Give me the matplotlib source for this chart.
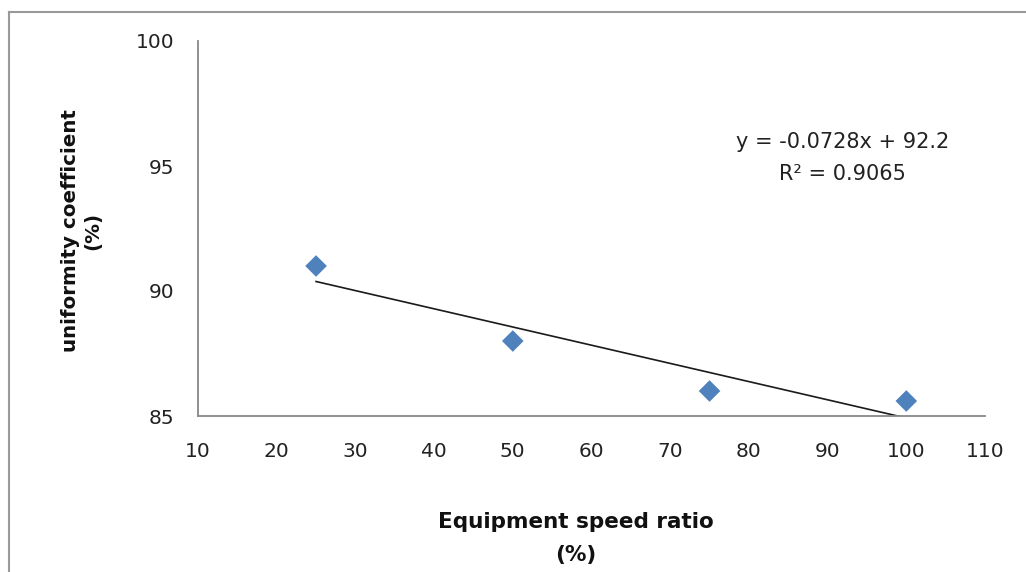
import numpy as np
import matplotlib
matplotlib.use("Agg")
import matplotlib.pyplot as plt
from matplotlib.lines import Line2D

# data
speed_ratio = [25, 50, 75, 100]
uniformity = [91.0, 88.0, 86.0, 85.6]
x_ticks = [10, 20, 30, 40, 50, 60, 70, 80, 90, 100, 110]
y_ticks = [85, 90, 95, 100]

fig = plt.figure(figsize=(10.26, 5.72), dpi=100)
ax = fig.add_axes([198/1026, 1-416/572, (985-198)/1026, (416-41)/572])

ax.scatter(speed_ratio, uniformity, marker='D', s=11**2, color='#4F81BD',
           edgecolors='none', zorder=3, clip_on=False)

slope, intercept = np.polyfit(speed_ratio, uniformity, 1)
xf = np.array([min(speed_ratio), max(speed_ratio)])
ax.plot(xf, slope*xf + intercept, color='#1a1a1a', lw=1.2, zorder=2)

ax.set_xlim(10, 110)
ax.set_ylim(85, 100)
ax.set_xticks(x_ticks)
ax.set_yticks(y_ticks)
ax.tick_params(length=0, labelsize=14.5, colors='#222222')
ax.tick_params(axis='x', pad=19)
ax.tick_params(axis='y', pad=17)
for s in ['top', 'right']:
    ax.spines[s].set_visible(False)
for s in ['left', 'bottom']:
    ax.spines[s].set_color('#888888')
    ax.spines[s].set_linewidth(1.3)

r2 = 1 - np.sum((np.array(uniformity) - (slope*np.array(speed_ratio)+intercept))**2) / \
    np.sum((np.array(uniformity) - np.mean(uniformity))**2)
fig.text(843/1026, 1-142/572, f"y = {slope:.4f}x + {intercept:.1f}", ha='center', va='center',
         fontsize=15, color='#222222')
fig.text(842/1026, 1-174/572, f"R² = {r2:.4f}", ha='center', va='center',
         fontsize=15, color='#222222')

fig.text(576/1026, 1-522/572, "Equipment speed ratio", ha='center', va='center',
         fontsize=15.5, fontweight='bold', color='#111111')
fig.text(576/1026, 1-555/572, "(%)", ha='center', va='center',
         fontsize=15.5, fontweight='bold', color='#111111')
fig.text(70/1026, 1-231/572, "uniformity coefficient", ha='center', va='center',
         rotation=90, fontsize=14.3, fontweight='bold', color='#111111')
fig.text(93/1026, 1-231/572, "(%)", ha='center', va='center',
         rotation=90, fontsize=14.3, fontweight='bold', color='#111111')

# outer chart border (left and top visible)
fig.add_artist(Line2D([9/1026, 9/1026], [0, 1-12/572], transform=fig.transFigure,
                      color='#999999', lw=1.5))
fig.add_artist(Line2D([9/1026, 1], [1-12/572, 1-12/572], transform=fig.transFigure,
                      color='#999999', lw=1.5))

fig.savefig("out.png", dpi=100)
